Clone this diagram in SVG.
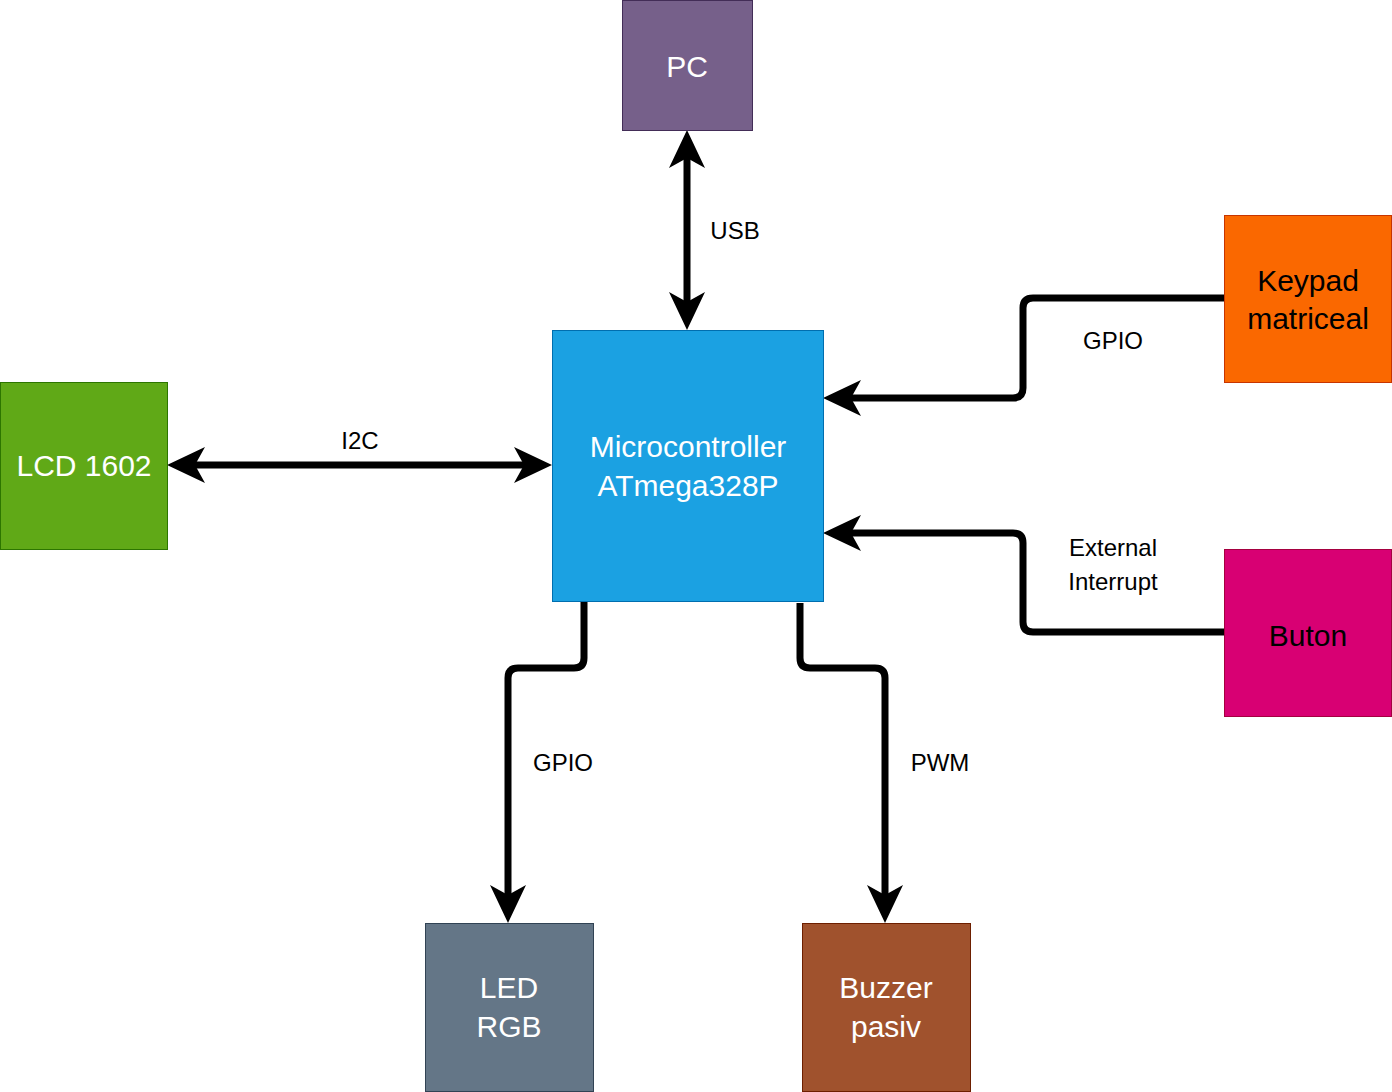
<svg xmlns="http://www.w3.org/2000/svg" width="1392" height="1092" viewBox="0 0 1392 1092">
<style>
text{font-family:"Liberation Sans",Arial,sans-serif;text-anchor:middle}
.n{font-size:30px;fill:#fff}
.k{font-size:30px;fill:#000}
.l{font-size:24px;fill:#000}
.c{fill:none;stroke:#000;stroke-width:7;stroke-linejoin:round}
</style>
<defs>
<marker id="a" markerUnits="userSpaceOnUse" viewBox="-15 -20 42 40" markerWidth="42" markerHeight="40" refX="0" refY="0" orient="auto-start-reverse">
<path d="M25,0 L-13,-18 L-3,0 L-13,18 Z" fill="#000"/>
</marker>
</defs>
<rect width="1392" height="1092" fill="#fff"/>
<g id="connectors">
<path class="c" d="M687,155 V305" marker-start="url(#a)" marker-end="url(#a)"/>
<text class="l" x="735" y="239">USB</text>
<path class="c" d="M192,465 H527" marker-start="url(#a)" marker-end="url(#a)"/>
<text class="l" x="360" y="449">I2C</text>
<path class="c" d="M1224,298 H1033 Q1023,298 1023,308 V388 Q1023,398 1013,398 H848" marker-end="url(#a)"/>
<text class="l" x="1113" y="349">GPIO</text>
<path class="c" d="M1224,632 H1033 Q1023,632 1023,622 V543 Q1023,533 1013,533 H848" marker-end="url(#a)"/>
<text class="l" x="1113" y="556">External</text>
<text class="l" x="1113" y="590">Interrupt</text>
<path class="c" d="M584,601 V658 Q584,668 574,668 H518 Q508,668 508,678 V898" marker-end="url(#a)"/>
<text class="l" x="563" y="771">GPIO</text>
<path class="c" d="M800,603 V658 Q800,668 810,668 H875 Q885,668 885,678 V898" marker-end="url(#a)"/>
<text class="l" x="940" y="771">PWM</text>
</g>
<g id="pc"><rect x="622.5" y="0.5" width="130" height="130" fill="#76608a" stroke="#432d57"/><text class="n" x="687" y="77">PC</text></g>
<g id="mcu"><rect x="552.5" y="330.5" width="271" height="271" fill="#1ba1e2" stroke="#006eaf"/><text class="n" x="688" y="457">Microcontroller</text><text class="n" x="688" y="496">ATmega328P</text></g>
<g id="lcd"><rect x="0.5" y="382.5" width="167" height="167" fill="#60a917" stroke="#2d7600"/><text class="n" x="84" y="476">LCD 1602</text></g>
<g id="keypad"><rect x="1224.5" y="215.5" width="167" height="167" fill="#fa6800" stroke="#c73500"/><text class="k" x="1308" y="291">Keypad</text><text class="k" x="1308" y="329">matriceal</text></g>
<g id="buton"><rect x="1224.5" y="549.5" width="167" height="167" fill="#d80073" stroke="#a50040"/><text class="k" x="1308" y="646">Buton</text></g>
<g id="led"><rect x="425.5" y="923.5" width="168" height="168" fill="#647687" stroke="#314354"/><text class="n" x="509" y="998">LED</text><text class="n" x="509" y="1037">RGB</text></g>
<g id="buzzer"><rect x="802.5" y="923.5" width="168" height="168" fill="#a0522d" stroke="#6d1f00"/><text class="n" x="886" y="998">Buzzer</text><text class="n" x="886" y="1037">pasiv</text></g>
</svg>
